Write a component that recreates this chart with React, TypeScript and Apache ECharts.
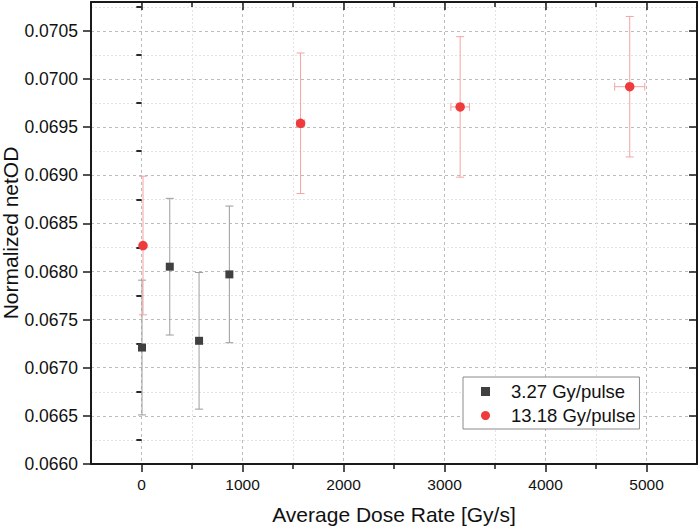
import React, { useEffect, useRef } from "react";
import * as echarts from "echarts";

// ---- data ----
const blackName = "3.27 Gy/pulse";
const blackX = [5, 280, 570, 870];
const blackY = [0.06721, 0.06805, 0.06728, 0.06797];
const blackXErr = [0, 0, 0, 0];
const blackYErr = [0.0007, 0.00071, 0.00071, 0.00071];

const redName = "13.18 Gy/pulse";
const redX = [15, 1575, 3155, 4834];
const redY = [0.06827, 0.06954, 0.06971, 0.06992];
const redXErr = [0, 40, 92, 149];
const redYErr = [0.00072, 0.00073, 0.00073, 0.00073];

const xMajorTicks = [0, 1000, 2000, 3000, 4000, 5000];
const xMinorTicks = [500, 1500, 2500, 3500, 4500];
const yMajorTicks = [0.066, 0.0665, 0.067, 0.0675, 0.068, 0.0685, 0.069, 0.0695, 0.07, 0.0705];
const yMinorTicks = [0.06625, 0.06675, 0.06725, 0.06775, 0.06825, 0.06875, 0.06925, 0.06975, 0.07025, 0.07075];

const X_MIN = -500;
const X_MAX = 5500;
const Y_MIN = 0.066;
const Y_MAX = 0.0708;

const FONT = "'Liberation Sans', Arial, Helvetica, sans-serif";
const AXIS_COLOR = "#1a1a1a";

function buildRows(xs: number[], ys: number[], exs: number[], eys: number[]) {
  return xs.map((x, i) => [x, ys[i], exs[i], eys[i]]);
}

function errorBarSeries(name: string, rows: number[][], color: string) {
  return {
    type: "custom",
    name,
    xAxisIndex: 0,
    yAxisIndex: 0,
    z: 2,
    silent: true,
    encode: { x: 0, y: 1 },
    data: rows,
    renderItem: (params: any, api: any) => {
      const x = api.value(0);
      const y = api.value(1);
      const ex = api.value(2);
      const ey = api.value(3);
      const cap = 4;
      const top = api.coord([x, y + ey]);
      const bot = api.coord([x, y - ey]);
      const style = { stroke: color, lineWidth: 1 };
      const children: any[] = [
        { type: "line", shape: { x1: top[0], y1: top[1], x2: bot[0], y2: bot[1] }, style },
        { type: "line", shape: { x1: top[0] - cap, y1: top[1], x2: top[0] + cap, y2: top[1] }, style },
        { type: "line", shape: { x1: bot[0] - cap, y1: bot[1], x2: bot[0] + cap, y2: bot[1] }, style },
      ];
      if (ex > 0) {
        const l = api.coord([x - ex, y]);
        const r = api.coord([x + ex, y]);
        children.push(
          { type: "line", shape: { x1: l[0], y1: l[1], x2: r[0], y2: r[1] }, style },
          { type: "line", shape: { x1: l[0], y1: l[1] - cap, x2: l[0], y2: l[1] + cap }, style },
          { type: "line", shape: { x1: r[0], y1: r[1] - cap, x2: r[0], y2: r[1] + cap }, style }
        );
      }
      return { type: "group", children };
    },
  };
}

function axisBase(extra: any) {
  return Object.assign(
    {
      type: "value",
      axisLine: { show: false, lineStyle: { color: AXIS_COLOR, width: 2 } },
      axisLabel: { show: false },
      axisTick: { show: false },
      splitLine: { show: false },
      minorTick: { show: false },
      minorSplitLine: { show: false },
    },
    extra
  );
}

export default function App() {
  const ref = useRef<HTMLDivElement>(null);

  useEffect(() => {
    document.body.style.margin = "0";
    if (!ref.current) return;
    const chart = echarts.init(ref.current, undefined, { renderer: "svg" });

    const majorSplit = { show: true, lineStyle: { color: "#bcbcbc", width: 1, type: [3, 3] } };
    const minorSplit = { show: true, lineStyle: { color: "#e3e3e3", width: 1, type: [2, 2] } };
    const tickStyle = { color: AXIS_COLOR, width: 1.5 };
    const axisLineStyle = { color: AXIS_COLOR, width: 2 };

    const option: any = {
      animation: false,
      backgroundColor: "#ffffff",
      grid: {
        left: 91,
        right: 2,
        top: 2,
        bottom: 64,
        containLabel: false,
        outerBoundsMode: "none",
      },
      legend: {
        show: true,
        orient: "vertical",
        left: 463,
        top: 377,
        data: [
          { name: blackName, icon: "rect" },
          { name: redName, icon: "circle" },
        ],
        itemWidth: 9,
        itemHeight: 9,
        itemGap: 5,
        padding: [5, 4, 4, 18],
        borderColor: "#8a8a8a",
        borderWidth: 1,
        backgroundColor: "#ffffff",
        selectedMode: false,
        textStyle: {
          fontFamily: FONT,
          fontSize: 18.5,
          color: "#111",
          lineHeight: 18,
          padding: [0, 0, 0, 16],
        },
      },
      xAxis: [
        axisBase({
          position: "bottom",
          min: X_MIN,
          max: X_MAX,
          interval: 500,
          name: "Average Dose Rate [Gy/s]",
          nameLocation: "middle",
          nameGap: 40,
          nameMoveOverlap: false,
          nameTextStyle: { fontFamily: FONT, fontSize: 21, color: "#111" },
          axisLine: { show: true, onZero: false, lineStyle: axisLineStyle },
          axisTick: { show: true, inside: false, length: 8, customValues: xMajorTicks, lineStyle: tickStyle },
          axisLabel: {
            show: true,
            customValues: xMajorTicks,
            fontFamily: FONT,
            fontSize: 15.5,
            color: "#111",
            margin: 12,
            formatter: (v: number) => String(v),
          },
          splitLine: majorSplit,
        }),
        axisBase({
          position: "bottom",
          min: X_MIN,
          max: X_MAX,
          interval: 500,
          axisTick: { show: true, inside: false, length: 5, customValues: xMinorTicks, lineStyle: tickStyle },
          splitLine: minorSplit,
        }),
        axisBase({
          position: "top",
          min: X_MIN,
          max: X_MAX,
          interval: 500,
          axisLine: { show: true, onZero: false, lineStyle: axisLineStyle },
          axisTick: { show: true, inside: true, length: 8, customValues: xMajorTicks, lineStyle: tickStyle },
        }),
        axisBase({
          position: "top",
          min: X_MIN,
          max: X_MAX,
          interval: 500,
          axisTick: { show: true, inside: true, length: 5, customValues: xMinorTicks, lineStyle: tickStyle },
        }),
      ],
      yAxis: [
        axisBase({
          position: "left",
          min: Y_MIN,
          max: Y_MAX,
          interval: 0.0005,
          name: "Normalized netOD",
          nameLocation: "middle",
          nameGap: 70,
          nameMoveOverlap: false,
          nameTextStyle: { fontFamily: FONT, fontSize: 21, color: "#111" },
          axisLine: { show: true, onZero: false, lineStyle: axisLineStyle },
          axisTick: { show: true, inside: false, length: 8, customValues: yMajorTicks, lineStyle: tickStyle },
          axisLabel: {
            show: true,
            customValues: yMajorTicks,
            fontFamily: FONT,
            fontSize: 17.5,
            color: "#111",
            margin: 13,
            formatter: (v: number) => v.toFixed(4),
          },
          splitLine: majorSplit,
        }),
        axisBase({
          position: "left",
          min: Y_MIN,
          max: Y_MAX,
          interval: 0.0005,
          axisTick: { show: true, inside: false, length: 5, customValues: yMinorTicks, lineStyle: tickStyle },
          splitLine: minorSplit,
        }),
        axisBase({
          position: "right",
          min: Y_MIN,
          max: Y_MAX,
          interval: 0.0005,
          axisLine: { show: true, onZero: false, lineStyle: axisLineStyle },
          axisTick: { show: true, inside: true, length: 8, customValues: yMajorTicks, lineStyle: tickStyle },
        }),
        axisBase({
          position: "right",
          min: Y_MIN,
          max: Y_MAX,
          interval: 0.0005,
          axisTick: { show: true, inside: true, length: 5, customValues: yMinorTicks, lineStyle: tickStyle },
        }),
      ],
      series: [
        errorBarSeries(blackName + " err", buildRows(blackX, blackY, blackXErr, blackYErr), "#9c9c9c"),
        errorBarSeries(redName + " err", buildRows(redX, redY, redXErr, redYErr), "#f4a3a3"),
        {
          type: "scatter",
          name: blackName,
          xAxisIndex: 0,
          yAxisIndex: 0,
          z: 3,
          symbol: "rect",
          symbolSize: 8,
          itemStyle: { color: "#404040", opacity: 1 },
          data: blackX.map((x, i) => [x, blackY[i]]),
        },
        {
          type: "scatter",
          name: redName,
          xAxisIndex: 0,
          yAxisIndex: 0,
          z: 3,
          symbol: "circle",
          symbolSize: 9.5,
          itemStyle: { color: "#ef3b3b", opacity: 1 },
          data: redX.map((x, i) => [x, redY[i]]),
        },
      ],
    };

    chart.setOption(option);
    return () => {
      chart.dispose();
    };
  }, []);

  return (
    <div
      ref={ref}
      style={{ position: "absolute", left: 0, top: 0, width: 699, height: 528 }}
    />
  );
}
